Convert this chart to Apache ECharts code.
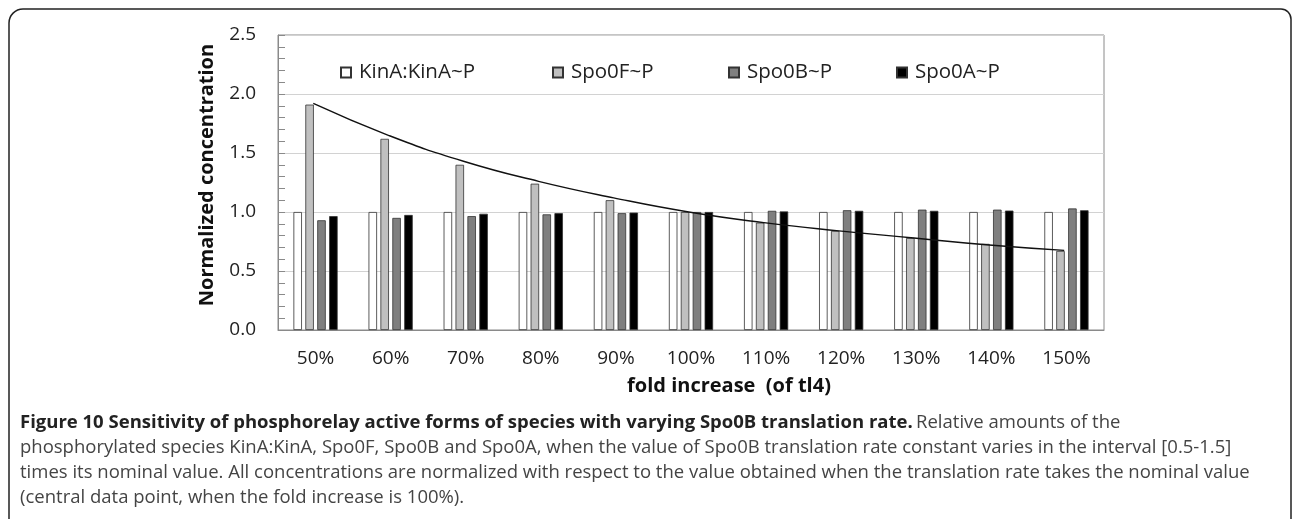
<!DOCTYPE html>
<html>
<head>
<meta charset="utf-8">
<script src="https://cdn.jsdelivr.net/npm/echarts@6/dist/echarts.min.js"></script>
<style>
html,body{margin:0;padding:0;background:#fff;}
#chart{width:1292px;height:519px;}
</style>
</head>
<body>
<div id="chart"></div>
<script>
var categories = ['50%','60%','70%','80%','90%','100%','110%','120%','130%','140%','150%'];
var kinA  = [1.00, 1.00, 1.00, 1.00, 1.00, 1.00, 1.00, 1.00, 1.00, 1.00, 1.00];
var spo0F = [1.91, 1.62, 1.40, 1.24, 1.10, 1.00, 0.91, 0.84, 0.78, 0.73, 0.67];
var spo0B = [0.93, 0.95, 0.965, 0.98, 0.99, 1.00, 1.01, 1.015, 1.02, 1.02, 1.03];
var spo0A = [0.965, 0.975, 0.985, 0.99, 0.995, 1.00, 1.005, 1.01, 1.01, 1.012, 1.015];
// trend line drawn through the Spo0F tops
var trend = [1.92, 1.65, 1.43, 1.26, 1.12, 1.00, 0.91, 0.84, 0.78, 0.72, 0.675];
var seriesNames = ['KinA:KinA~P', 'Spo0F~P', 'Spo0B~P', 'Spo0A~P'];

var font = '"Open Sans", "Noto Sans", sans-serif',
	trendShift = 0.47,   // trend point sits at right edge of the Spo0F bar
	legendLeft = [335, 547, 723, 891];

var chart = echarts.init(document.getElementById('chart'), null, {renderer: 'canvas'});

function barSeries(name, data, color){
	return {
		name: name,
		type: 'bar',
		data: data,
		barWidth: 8.5,
		barGap: '40%',
		itemStyle: {
			color: color,
			borderColor: '#333',
			borderWidth: 0.8
		},
		emphasis: {disabled: true}
	};
}

// one legend block per item so each sits where it is in the figure
var legends = seriesNames.map(function(n, i){
	return {
		left: legendLeft[i],
		top: 57,
		itemWidth: 10,
		itemHeight: 10,
		icon: 'rect',
		selectedMode: false,
		textStyle: {fontSize: 20.5, color: '#222', fontFamily: font, padding: [0, 0, 0, 3]},
		data: [n]
	};
});

var caption = [
	'phosphorylated species KinA:KinA, Spo0F, Spo0B and Spo0A, when the value of Spo0B translation rate constant varies in the interval [0.5-1.5]',
	'times its nominal value. All concentrations are normalized with respect to the value obtained when the translation rate takes the nominal value',
	'(central data point, when the fold increase is 100%).'
];

var graphics = [
	{
		type: 'rect',
		shape: {x: 9, y: 9, width: 1282, height: 600, r: [14, 10, 0, 0]},
		style: {fill: 'none', stroke: '#222', lineWidth: 1.5},
		silent: true
	},
	{
		type: 'text',
		x: 20,
		y: 423,
		style: {
			text: '{b|Figure 10 Sensitivity of phosphorelay active forms of species with varying Spo0B translation rate.} {n|Relative amounts of the}',
			verticalAlign: 'middle',
			rich: {
				b: {fontSize: 18.5, fontWeight: 'bold', fill: '#222', fontFamily: font},
				n: {fontSize: 18.5, fill: '#444', fontFamily: font}
			}
		}
	}
];
caption.forEach(function(t, i){
	graphics.push({
		type: 'text',
		x: 20,
		y: 448 + i * 25,
		style: {text: t, fontSize: 18.5, fill: '#444', fontFamily: font, verticalAlign: 'middle'}
	});
});

var option = {
	animation: false,
	textStyle: {fontFamily: font},
	grid: {
		left: 278,
		right: 188,
		top: 35,
		bottom: 189,
		show: true,
		borderColor: '#8a8a8a',
		borderWidth: 1
	},
	legend: legends,
	xAxis: [{
		type: 'category',
		data: categories,
		name: 'fold increase  (of tl4)',
		nameLocation: 'middle',
		nameGap: 46,
		nameTextStyle: {fontSize: 20, fontWeight: 'bold', color: '#111', padding: [0, 0, 0, 76]},
		axisLine: {lineStyle: {color: '#8a8a8a'}},
		axisTick: {inside: true, length: 7, lineStyle: {color: '#8a8a8a'}},
		axisLabel: {fontSize: 19, color: '#222', margin: 19}
	}, {
		type: 'value',
		min: 0,
		max: 11,
		show: false
	}],
	yAxis: {
		type: 'value',
		min: 0,
		max: 2.5,
		interval: 0.5,
		name: 'Normalized concentration',
		nameLocation: 'middle',
		nameRotate: 90,
		nameGap: 61,
		nameTextStyle: {fontSize: 20, fontWeight: 'bold', color: '#111', padding: [0, 0, 0, 15]},
		axisLine: {show: true, lineStyle: {color: '#8a8a8a'}},
		axisTick: {show: true, inside: true, length: 7, lineStyle: {color: '#8a8a8a'}},
		minorTick: {show: true, splitNumber: 5, length: 7, lineStyle: {color: '#8a8a8a'}},
		splitLine: {lineStyle: {color: '#d2d2d2'}},
		axisLabel: {
			fontSize: 19,
			color: '#222',
			margin: 22,
			formatter: function(v){ return v.toFixed(1); }
		}
	},
	series: [
		barSeries(seriesNames[0], kinA, '#ffffff'),
		barSeries(seriesNames[1], spo0F, '#c0c0c0'),
		barSeries(seriesNames[2], spo0B, '#7f7f7f'),
		barSeries(seriesNames[3], spo0A, '#000000'),
		{
			name: 'trend',
			type: 'line',
			xAxisIndex: 1,
			smooth: true,
			symbol: 'none',
			lineStyle: {color: '#111', width: 1.4},
			data: trend.map(function(v, i){ return [i + trendShift, v]; }),
			z: 5
		}
	],
	graphic: graphics
};

chart.setOption(option);
</script>
</body>
</html>
